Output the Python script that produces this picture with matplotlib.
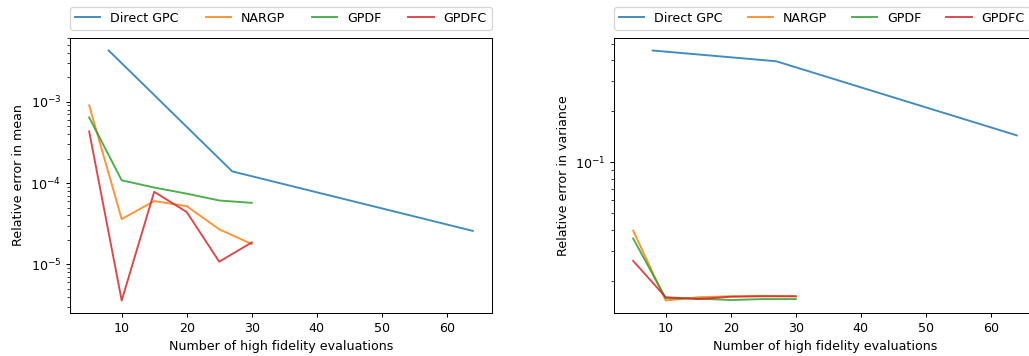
import numpy as np
import matplotlib
matplotlib.use('Agg')
import matplotlib.pyplot as plt

# Anzahl High-Fidelity-Auswertungen
n_gpc = [8, 27, 64]
n_mf = [5, 10, 15, 20, 25, 30]

# Relativer Fehler im Mittelwert
mean_gpc = [4.25e-3, 1.39e-4, 2.58e-5]
mean_nargp = [9.0e-4, 3.6e-5, 6.0e-5, 5.2e-5, 2.7e-5, 1.78e-5]
mean_gpdf = [6.4e-4, 1.08e-4, 8.8e-5, 7.4e-5, 6.1e-5, 5.7e-5]
mean_gpdfc = [4.3e-4, 3.6e-6, 7.8e-5, 4.4e-5, 1.08e-5, 1.86e-5]

# Relativer Fehler in der Varianz
var_gpc = [0.456, 0.394, 0.144]
var_nargp = [0.0395, 0.0153, 0.0160, 0.0162, 0.0163, 0.0162]
var_gpdf = [0.0355, 0.0158, 0.0157, 0.0154, 0.0156, 0.0156]
var_gpdfc = [0.0262, 0.0160, 0.0156, 0.0161, 0.0162, 0.0162]

labels = ['Direct GPC', 'NARGP', 'GPDF', 'GPDFC']

W, H = 1029, 356
dpi = 91
fig = plt.figure(figsize=(W/dpi, H/dpi), dpi=dpi)
ax1 = fig.add_axes([70/W, 1-313/H, 422/W, 275/H])
ax2 = fig.add_axes([614/W, 1-313/H, 422/W, 275/H])

for ax, data, ylab, lw in [(ax1, (mean_gpc, mean_nargp, mean_gpdf, mean_gpdfc), 'Relative error in mean', 1.0),
                           (ax2, (var_gpc, var_nargp, var_gpdf, var_gpdfc), 'Relative error in variance', 416/422)]:
    ax.semilogy(n_gpc, data[0], label=labels[0], alpha=0.85)
    ax.semilogy(n_mf, data[1], label=labels[1], alpha=0.85)
    ax.semilogy(n_mf, data[2], label=labels[2], alpha=0.85)
    ax.semilogy(n_mf, data[3], label=labels[3], alpha=0.85)
    ax.set_xlabel('Number of high fidelity evaluations')
    ax.set_ylabel(ylab)
    ax.legend(bbox_to_anchor=(0., 1.03, lw, .102), loc='lower left',
              ncol=4, mode='expand', borderaxespad=0.)

fig.savefig('out.png', dpi=dpi)
